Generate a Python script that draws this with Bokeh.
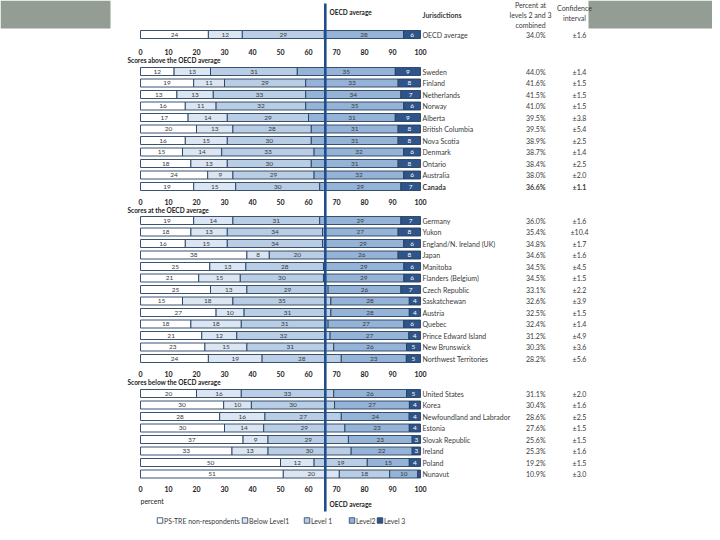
from bokeh.plotting import figure
from bokeh.models import Range1d, ColumnDataSource
from bokeh.embed import file_html
from bokeh.resources import INLINE
from bokeh.core.properties import value

# ---------------- data ----------------
levels = ["PS-TRE non-respondents", "Below Level1", "Level 1", "Level2", "Level 3"]
colors = ["#ffffff", "#dce6f2", "#b9cde5", "#95b3d7", "#2e5489"]
ticks = [0, 10, 20, 30, 40, 50, 60, 70, 80, 90, 100]
oecd_average_value = 66

oecd_names = ["OECD average"]
oecd_nonresp = [24]
oecd_below1 = [12]
oecd_level1 = [29]
oecd_level2 = [28]
oecd_level3 = [6]
oecd_pct = ["34.0%"]
oecd_ci = ["±1.6"]

above_title = "Scores above the OECD average"
above_names = ["Sweden", "Finland", "Netherlands", "Norway", "Alberta", "British Columbia",
               "Nova Scotia", "Denmark", "Ontario", "Australia", "Canada"]
above_nonresp = [12, 19, 13, 16, 17, 20, 16, 15, 18, 24, 19]
above_below1 = [13, 11, 13, 11, 14, 13, 15, 14, 13, 9, 15]
above_level1 = [31, 29, 33, 32, 29, 28, 30, 33, 30, 29, 30]
above_level2 = [35, 33, 34, 35, 31, 31, 31, 32, 31, 32, 29]
above_level3 = [9, 8, 7, 6, 9, 8, 8, 6, 8, 6, 7]
above_pct = ["44.0%", "41.6%", "41.5%", "41.0%", "39.5%", "39.5%", "38.9%", "38.7%", "38.4%", "38.0%", "36.6%"]
above_ci = ["±1.4", "±1.5", "±1.5", "±1.5", "±3.8", "±5.4", "±2.5", "±1.4", "±2.5", "±2.0", "±1.1"]

at_title = "Scores at the OECD average"
at_names = ["Germany", "Yukon", "England/N. Ireland (UK)", "Japan", "Manitoba", "Flanders (Belgium)",
            "Czech Republic", "Saskatchewan", "Austria", "Quebec", "Prince Edward Island",
            "New Brunswick", "Northwest Territories"]
at_nonresp = [19, 18, 16, 38, 25, 21, 25, 15, 27, 18, 21, 23, 24]
at_below1 = [14, 13, 15, 8, 13, 15, 13, 18, 10, 18, 12, 15, 19]
at_level1 = [31, 34, 34, 20, 28, 30, 29, 35, 31, 31, 32, 31, 28]
at_level2 = [29, 27, 29, 26, 29, 29, 26, 28, 28, 27, 27, 26, 23]
at_level3 = [7, 8, 6, 8, 6, 6, 7, 4, 4, 6, 4, 5, 5]
at_pct = ["36.0%", "35.4%", "34.8%", "34.6%", "34.5%", "34.5%", "33.1%", "32.6%", "32.5%",
          "32.4%", "31.2%", "30.3%", "28.2%"]
at_ci = ["±1.6", "±10.4", "±1.7", "±1.6", "±4.5", "±1.5", "±2.2", "±3.9", "±1.5", "±1.4",
         "±4.9", "±3.6", "±5.6"]

below_title = "Scores below the OECD average"
below_names = ["United States", "Korea", "Newfoundland and Labrador", "Estonia", "Slovak Republic",
               "Ireland", "Poland", "Nunavut"]
below_nonresp = [20, 30, 28, 30, 37, 33, 50, 51]
below_below1 = [16, 10, 16, 14, 9, 13, 12, 20]
below_level1 = [33, 30, 27, 29, 29, 30, 19, 18]
below_level2 = [26, 27, 24, 23, 23, 22, 15, 10]
below_level3 = [5, 4, 4, 4, 3, 3, 4, 1]
below_pct = ["31.1%", "30.4%", "28.6%", "27.6%", "25.6%", "25.3%", "19.2%", "10.9%"]
below_ci = ["±2.0", "±1.6", "±2.5", "±1.5", "±1.5", "±1.6", "±1.5", "±3.0"]

bold_name = "Canada"

# ---------------- layout ----------------
W, H = 712, 532
X0, S = 140.0, 2.8          # px of 0 %, px per percent


def px(xp):
    return (xp - X0) / S


FONT = value("Lato")
p = figure(width=W, height=H, output_backend="svg", toolbar_location=None,
           x_range=Range1d(px(0), px(W)), y_range=Range1d(H, 0),
           min_border=0, outline_line_color=None,
           x_axis_location=None, y_axis_location=None)
p.grid.visible = False
p.background_fill_color = "white"
p.border_fill_color = "white"

# grey header blocks
p.quad(left=[px(0), px(588)], right=[px(110), px(W)], top=[0, 0], bottom=[28, 28],
       fill_color="#939d93", line_color=None)

# rows
rows = []
rows.append((oecd_names, [oecd_nonresp, oecd_below1, oecd_level1, oecd_level2, oecd_level3],
             oecd_pct, oecd_ci, 34.0))
group_defs = [
    (above_title, above_names, [above_nonresp, above_below1, above_level1, above_level2, above_level3],
     above_pct, above_ci, 60.0, 71.0),
    (at_title, at_names, [at_nonresp, at_below1, at_level1, at_level2, at_level3],
     at_pct, at_ci, 209.5, 220.0),
    (below_title, below_names, [below_nonresp, below_below1, below_level1, below_level2, below_level3],
     below_pct, below_ci, 382.0, 393.0),
]
PITCH = 11.5
for g in group_defs:
    rows.append((g[1], g[2], g[3], g[4], g[6]))

seg = {k: dict(left=[], right=[], y=[], lx=[], lab=[]) for k in range(5)}
names_src = dict(x=[], y=[], t=[])
bold_src = dict(x=[], y=[], t=[])
pct_src = dict(x=[], y=[], t=[])
pctb_src = dict(x=[], y=[], t=[])
ci_src = dict(x=[], y=[], t=[])
cib_src = dict(x=[], y=[], t=[])

for names, series, pcts, cis, y0 in rows:
    for i, nm in enumerate(names):
        y = y0 + i * PITCH
        vals = [s[i] for s in series]
        tot = float(sum(vals))
        cum = 0.0
        for k, v in enumerate(vals):
            w = v * 100.0 / tot
            seg[k]["left"].append(cum)
            seg[k]["right"].append(cum + w)
            seg[k]["y"].append(y)
            seg[k]["lx"].append(cum + w / 2)
            seg[k]["lab"].append(str(v) if v >= 2 else "")
            cum += w
        b = nm == bold_name
        (bold_src if b else names_src)["x"].append(px(422))
        (bold_src if b else names_src)["y"].append(y)
        (bold_src if b else names_src)["t"].append(nm)
        (pctb_src if b else pct_src)["x"].append(px(545))
        (pctb_src if b else pct_src)["y"].append(y)
        (pctb_src if b else pct_src)["t"].append(pcts[i])
        (cib_src if b else ci_src)["x"].append(px(579))
        (cib_src if b else ci_src)["y"].append(y)
        (cib_src if b else ci_src)["t"].append(cis[i])

for k in range(5):
    src = ColumnDataSource(seg[k])
    p.hbar(y="y", left="left", right="right", height=8, source=src,
           fill_color=colors[k], line_color="#243f60", line_width=0.9)
for k in range(5):
    src = ColumnDataSource(seg[k])
    p.text(x="lx", y="y", text="lab", source=src, text_font=FONT, text_font_size="6.5px",
           text_align="center", text_baseline="middle",
           text_color="#ffffff" if k == 4 else "#3a3a3a")

# OECD average line
p.segment(x0=[oecd_average_value], x1=[oecd_average_value], y0=[3], y1=[511],
          line_color="#1f4e8c", line_width=2.6)

# tick label rows
for ty in [51.0, 201.0, 373.0, 488.0]:
    p.text(x=ticks, y=[ty] * len(ticks), text=[str(t) for t in ticks], text_font=FONT,
           text_font_size="7px", text_align="center", text_baseline="middle",
           text_color="#222222", text_font_style="bold")

# group titles
p.text(x=[px(127)] * 3, y=[g[5] for g in group_defs], text=[g[0] for g in group_defs],
       text_font=FONT, text_font_size="6.5px", text_font_style="bold",
       text_align="left", text_baseline="middle", text_color="#222222")

# right-hand columns
for src, align, bold in [(names_src, "left", False), (bold_src, "left", True),
                         (pct_src, "right", False), (pctb_src, "right", True),
                         (ci_src, "center", False), (cib_src, "center", True)]:
    p.text(x="x", y="y", text="t", source=ColumnDataSource(src), text_font=FONT,
           text_font_size="7px", text_align=align, text_baseline="middle",
           text_color="#3a3a3a", text_font_style="bold" if bold else "normal")

# headers
p.text(x=[px(329)], y=[12], text=["OECD average"], text_font=FONT, text_font_size="6.5px",
       text_font_style="bold", text_align="left", text_baseline="middle", text_color="#222222")
p.text(x=[px(422)], y=[14], text=["Jurisdictions"], text_font=FONT, text_font_size="7px",
       text_font_style="bold", text_align="left", text_baseline="middle", text_color="#3a3a3a")
p.text(x=[px(530)] * 3, y=[4.5, 14.5, 24.5], text=["Percent at", "levels 2 and 3", "combined"],
       text_font=FONT, text_font_size="7px", text_align="center", text_baseline="middle",
       text_color="#3a3a3a")
p.text(x=[px(574)] * 2, y=[7, 17], text=["Confidence", "interval"],
       text_font=FONT, text_font_size="7px", text_align="center", text_baseline="middle",
       text_color="#3a3a3a")

# bottom labels
p.text(x=[px(140)], y=[500], text=["percent"], text_font=FONT, text_font_size="7px",
       text_align="left", text_baseline="middle", text_color="#222222")
p.text(x=[px(329)], y=[504], text=["OECD average"], text_font=FONT, text_font_size="6.5px",
       text_font_style="bold", text_align="left", text_baseline="middle", text_color="#222222")

# legend
leg_x = [157, 242, 304, 349, 377]
p.rect(x=[px(v + 2.5) for v in leg_x], y=[520] * 5, width=5.5 / S, height=5.5,
       fill_color=colors, line_color="#243f60", line_width=0.8)
p.text(x=[px(v + 6.5) for v in leg_x], y=[520.5] * 5, text=levels, text_font=FONT,
       text_font_size="6.9px", text_align="left", text_baseline="middle", text_color="#3a3a3a")

open("out.html", "w").write(file_html(p, INLINE))
